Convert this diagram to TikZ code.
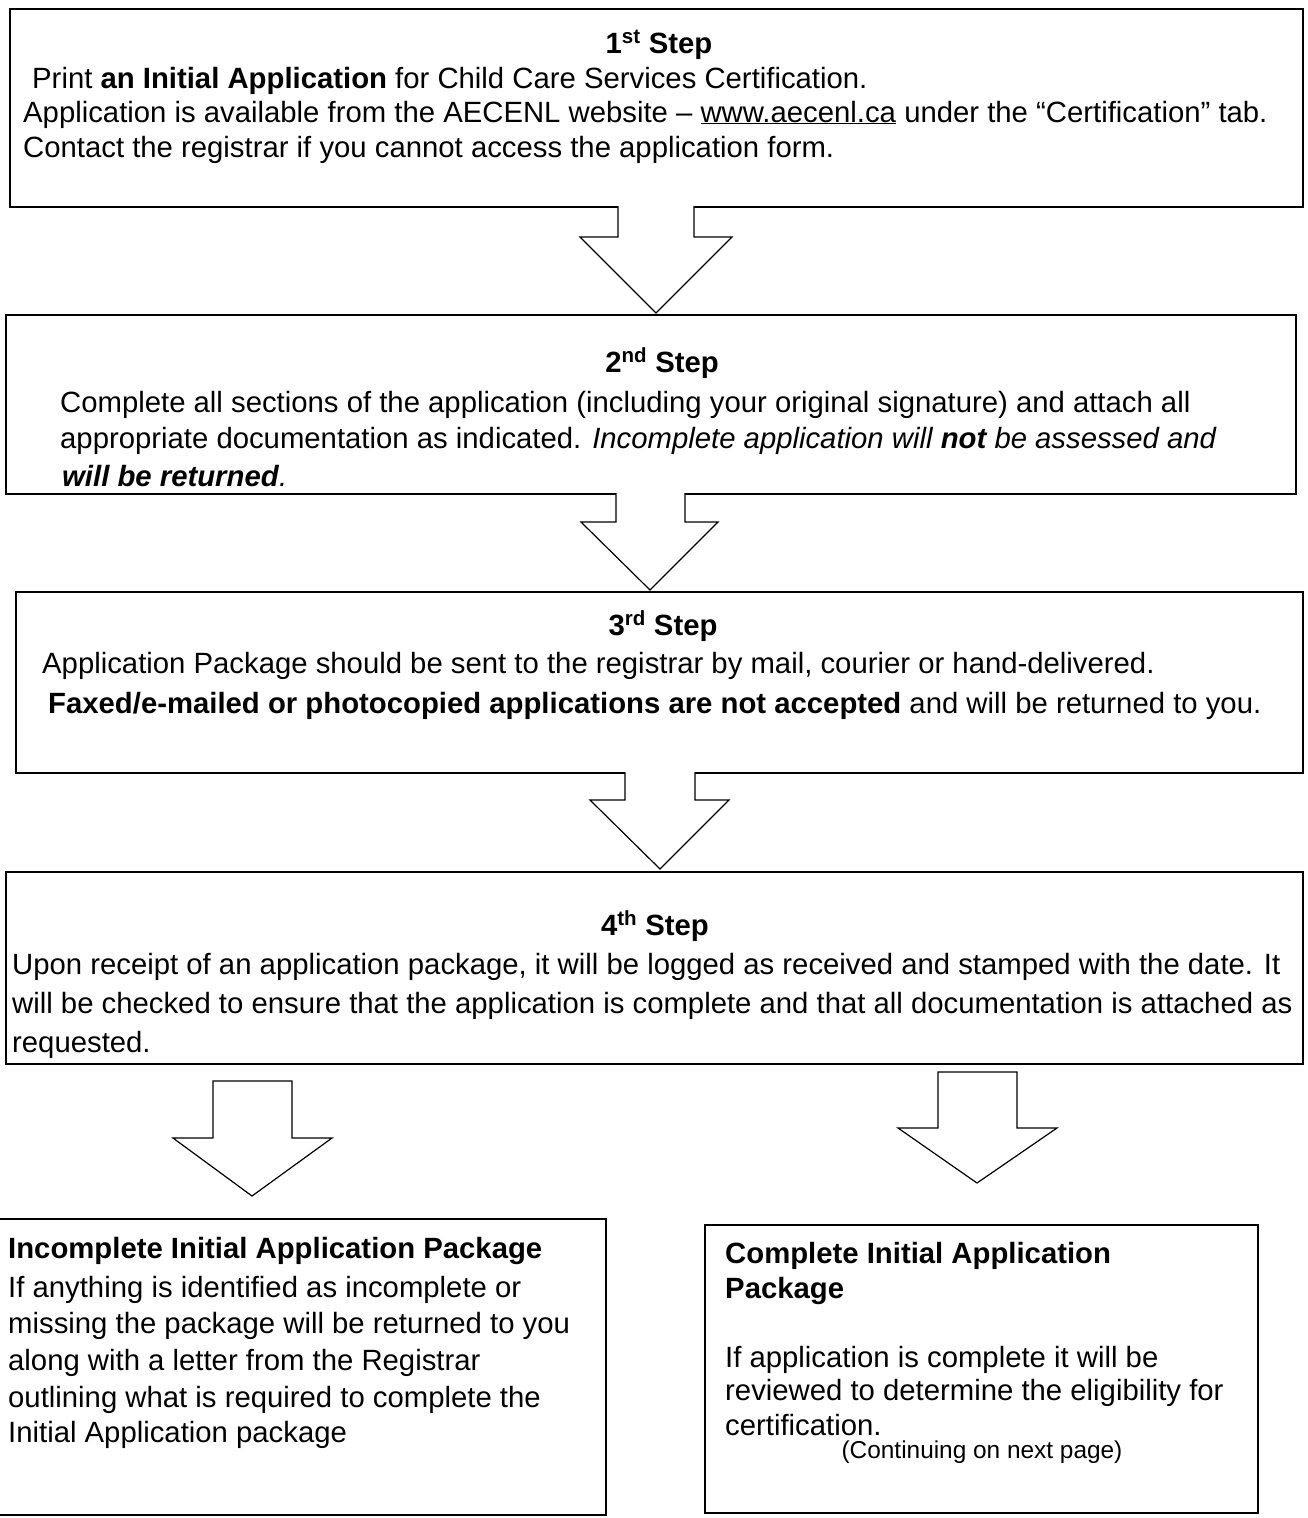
\documentclass[tikz,border=0pt]{standalone}
\usepackage{fontspec}
\setmainfont{Liberation Sans}
\tikzset{
  box/.style={draw=black, line width=1.6pt, fill=white, inner sep=0pt, anchor=north west},
  barrow/.style={draw=black, line width=1.2pt, fill=white, line join=miter},
  body/.style={font=\fontsize{29.3}{34}\selectfont, inner sep=0pt, anchor=base west},
  bodybold/.style={body, font=\bfseries\fontsize{29.3}{34}\selectfont},
  head/.style={font=\bfseries\fontsize{29.3}{34}\selectfont, inner sep=0pt, anchor=base},
  small/.style={font=\fontsize{24.4}{28}\selectfont, inner sep=0pt, anchor=base}
}
\begin{document}
\begin{tikzpicture}[x=1pt, y=-1pt]
\useasboundingbox (0,0) rectangle (1307,1518);
% boxes
\node[box, minimum width=1293pt, minimum height=198pt] (b1) at (9,8) {};
\node[box, minimum width=1290pt, minimum height=179pt] (b2) at (5,314) {};
\node[box, minimum width=1287pt, minimum height=181pt] (b3) at (15,591) {};
\node[box, minimum width=1297pt, minimum height=192pt] (b4) at (5,871) {};
\node[box, minimum width=607pt, minimum height=296pt] (b5) at (-2,1218) {};
\node[box, minimum width=553pt, minimum height=288pt] (b6) at (704,1224) {};
% block arrows
\draw[barrow] (618,206) -- (618,237) -- (580,237) -- (656,313) -- (732,237) -- (694,237) -- (694,206);
\draw[barrow] (616,493) -- (616,522) -- (581,522) -- (650,590) -- (718,522) -- (685,522) -- (685,493);
\draw[barrow] (625,772) -- (625,800) -- (590,800) -- (660,869) -- (729,800) -- (695,800) -- (695,772);
\draw[barrow] (213,1081) -- (213,1138) -- (173,1138) -- (252,1196) -- (332,1138) -- (292,1138) -- (292,1081) -- cycle;
\draw[barrow] (938,1072) -- (938,1128) -- (898,1128) -- (977,1183) -- (1057,1128) -- (1017,1128) -- (1017,1072) -- cycle;
% step 1
\node[head] (h1) at (659,53) {1\textsuperscript{st} Step};
\node[body] (t1a) at (32,88) {Print \textbf{an Initial Application} for Child Care Services Certification.};
\node[body] (t1b) at (23,122) {Application is available from the AECENL website – \underline{www.aecenl.ca} under the “Certification” tab.};
\node[body] (t1c) at (23,157) {Contact the registrar if you cannot access the application form.};
% step 2
\node[head] (h2) at (662,372) {2\textsuperscript{nd} Step};
\node[body] (t2a) at (60,412) {Complete all sections of the application (including your original signature) and attach all};
\node[body] (t2b) at (60,448) {appropriate documentation as indicated. \textit{Incomplete application will \textbf{not} be assessed and}};
\node[body] (t2c) at (62,486) {\textbf{\textit{will be returned}}\textit{.}};
% step 3
\node[head] (h3) at (663,635) {3\textsuperscript{rd} Step};
\node[body] (t3a) at (42,673) {Application Package should be sent to the registrar by mail, courier or hand-delivered.};
\node[body] (t3b) at (48,713) {\textbf{Faxed/e-mailed or photocopied applications are not accepted} and will be returned to you.};
% step 4
\node[head] (h4) at (655,935) {4\textsuperscript{th} Step};
\node[body] (t4a) at (12,974) {Upon receipt of an application package, it will be logged as received and stamped with the date. It};
\node[body] (t4b) at (12,1013) {will be checked to ensure that the application is complete and that all documentation is attached as};
\node[body] (t4c) at (12,1052) {requested.};
% incomplete
\node[bodybold] (t5a) at (8,1258) {Incomplete Initial Application Package};
\node[body] (t5b) at (8,1297) {If anything is identified as incomplete or};
\node[body] (t5c) at (8,1333) {missing the package will be returned to you};
\node[body] (t5d) at (8,1370) {along with a letter from the Registrar};
\node[body] (t5e) at (8,1407) {outlining what is required to complete the};
\node[body] (t5f) at (8,1442) {Initial Application package};
% complete
\node[bodybold] (t6a) at (725,1263) {Complete Initial Application};
\node[bodybold] (t6b) at (725,1298) {Package};
\node[body] (t6c) at (725,1367) {If application is complete it will be};
\node[body] (t6d) at (725,1400) {reviewed to determine the eligibility for};
\node[body] (t6e) at (725,1435) {certification.};
\node[small] (t6f) at (982,1458) {(Continuing on next page)};
\end{tikzpicture}
\end{document}
